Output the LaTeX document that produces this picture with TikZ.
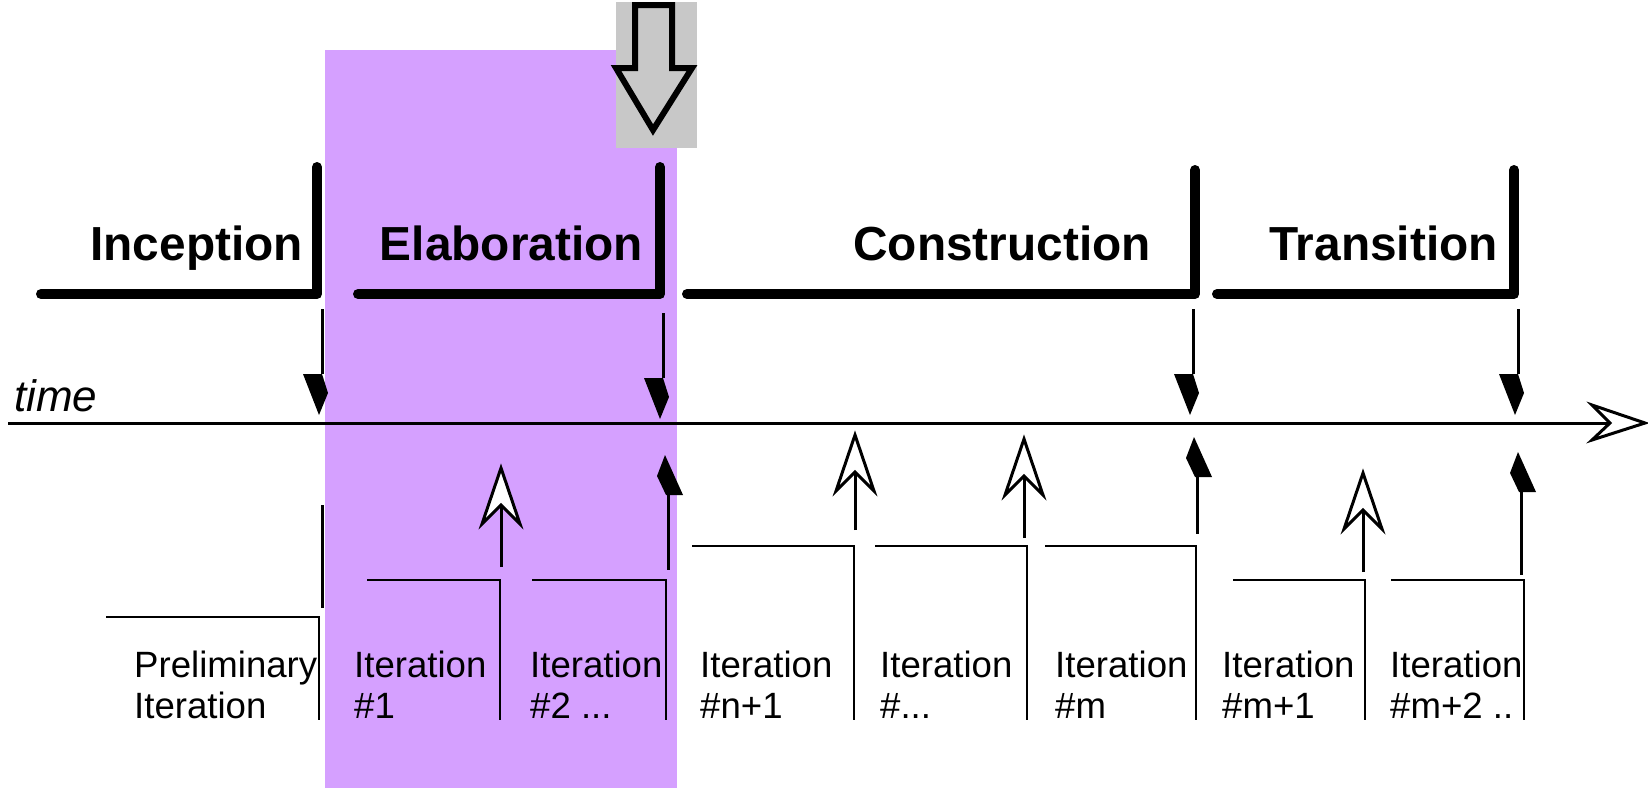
\documentclass[tikz,border=0pt]{standalone}
\usepackage{fontspec}
\setmainfont{Liberation Sans}
\definecolor{elabpurple}{RGB}{213,160,255}
\definecolor{boxgray}{RGB}{200,200,200}
\tikzset{
  phase/.style={line width=10pt,line cap=round,line join=round},
  phasetext/.style={anchor=base east,inner sep=0pt,font=\fontsize{47.8}{56}\selectfont\bfseries},
  itertext/.style={anchor=base west,inner sep=0pt,font=\fontsize{36.6}{41}\selectfont},
  iterline/.style={line width=2.6pt},
  stem/.style={line width=3pt},
  mdown/.pic={\fill (-19,0)--(0,0)--(6,19)--(-3,41)--cycle;},
  mup/.pic={\fill (-3,-40)--(-11,-19)--(-2,0)--(15,0)--cycle;},
  oarrow/.pic={\filldraw[fill=white,line width=3pt,miter limit=20] (0,0)--(19,56)--(0,37)--(-19,56)--cycle;}
}
\begin{document}
\begin{tikzpicture}[x=1pt,y=-1pt]
\useasboundingbox (0,0) rectangle (1648,788);
% Elaboration highlight and focus marker
\fill[elabpurple] (325,50) rectangle (677,788);
\fill[boxgray] (616,2) rectangle (697,148);
\draw[line width=6pt,miter limit=10] (635,5)--(672,5)--(672,68)--(692,68)--(653,130)--(616,68)--(635,68)--cycle;
% phase brackets
\draw[phase] (41,294)--(317,294)--(317,167);
\draw[phase] (358,294)--(660,294)--(660,167);
\draw[phase] (687,294)--(1195,294)--(1195,170);
\draw[phase] (1217,294)--(1514,294)--(1514,170);
\node[phasetext] (inc) at (303,260) {Inception};
\node[phasetext] (ela) at (643,260) {Elaboration};
\node[phasetext] (con) at (1151,260) {Construction};
\node[phasetext] (tra) at (1498,260) {Transition};
% time axis
\node[anchor=base west,inner sep=0pt,font=\fontsize{44}{50}\selectfont\itshape] (time) at (14,411) {time};
\coordinate (axL) at (8,423);
\coordinate (axR) at (1610,423);
\draw[line width=3pt] (axL)--(axR);
\filldraw[fill=white,line width=3pt,miter limit=20] (1592,405)--(1645,423)--(1592,440)--(1610,423)--cycle;
% milestones above axis
\draw[stem] (322,309)--(322,374); \pic at (322,374) {mdown};
\draw[stem] (663,313)--(663,378); \pic at (663,378) {mdown};
\draw[stem] (1193,309)--(1193,374); \pic at (1193,374) {mdown};
\draw[stem] (1518,309)--(1518,374); \pic at (1518,374) {mdown};
% milestones below axis
\draw[stem] (322,505)--(322,608);
\draw[stem] (668,495)--(668,570); \pic at (668,495) {mup};
\draw[stem] (1197,477)--(1197,534); \pic at (1197,477) {mup};
\draw[stem] (1521,492)--(1521,575); \pic at (1521,492) {mup};
% iteration release arrows
\draw[stem] (501,567)--(501,500); \pic at (501,468) {oarrow};
\draw[stem] (855,530)--(855,467); \pic at (855,435) {oarrow};
\draw[stem] (1024,538)--(1024,471); \pic at (1024,439) {oarrow};
\draw[stem] (1363,572)--(1363,505); \pic at (1363,473) {oarrow};
% iteration brackets
\draw[iterline] (106,617)--(319,617)--(319,720);
\draw[iterline] (367,580)--(500,580)--(500,720);
\draw[iterline] (532,580)--(666,580)--(666,720);
\draw[iterline] (692,546)--(854,546)--(854,720);
\draw[iterline] (875,546)--(1027,546)--(1027,720);
\draw[iterline] (1045,546)--(1196,546)--(1196,720);
\draw[iterline] (1233,580)--(1365,580)--(1365,720);
\draw[iterline] (1391,580)--(1524,580)--(1524,720);
% iteration labels
\node[itertext] (it0) at (134,677) {\begin{tabular}[t]{@{}l@{}}Preliminary\\Iteration\end{tabular}};
\node[itertext] (it1) at (354,677) {\begin{tabular}[t]{@{}l@{}}Iteration\\\#1\end{tabular}};
\node[itertext] (it2) at (530,677) {\begin{tabular}[t]{@{}l@{}}Iteration\\\#2 ...\end{tabular}};
\node[itertext] (it3) at (700,677) {\begin{tabular}[t]{@{}l@{}}Iteration\\\#n+1\end{tabular}};
\node[itertext] (it4) at (880,677) {\begin{tabular}[t]{@{}l@{}}Iteration\\\#...\end{tabular}};
\node[itertext] (it5) at (1055,677) {\begin{tabular}[t]{@{}l@{}}Iteration\\\#m\end{tabular}};
\node[itertext] (it6) at (1222,677) {\begin{tabular}[t]{@{}l@{}}Iteration\\\#m+1\end{tabular}};
\node[itertext] (it7) at (1390,677) {\begin{tabular}[t]{@{}l@{}}Iteration\\\#m+2 ..\end{tabular}};
\end{tikzpicture}
\end{document}
